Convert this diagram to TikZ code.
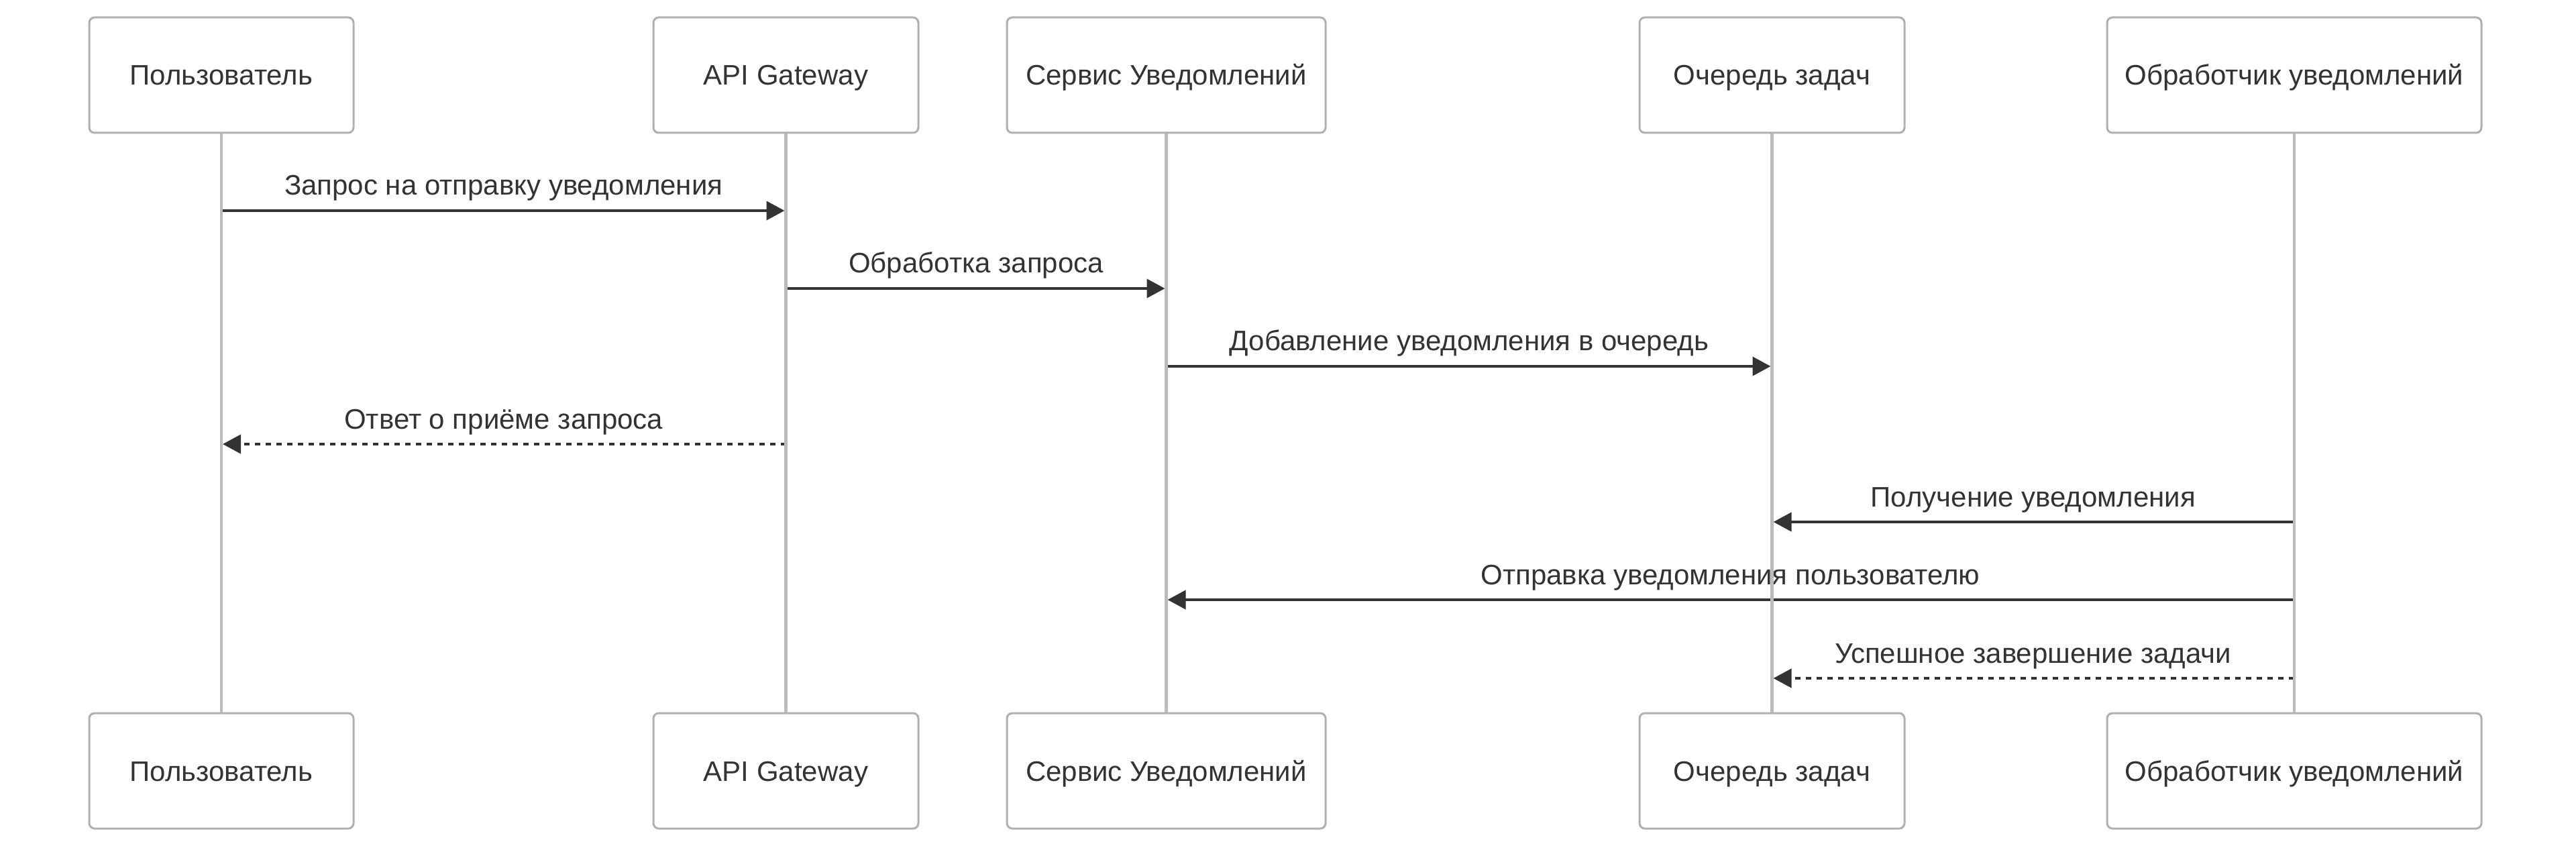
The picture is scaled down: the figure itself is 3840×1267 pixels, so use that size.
\documentclass[tikz,border=0pt]{standalone}
\usepackage{fontspec}
\setmainfont{Liberation Sans}
\usetikzlibrary{arrows.meta}
\definecolor{boxgray}{HTML}{B0B0B0}
\definecolor{lifegray}{HTML}{BBBBBB}
\definecolor{ink}{HTML}{333333}
\begin{document}
\begin{tikzpicture}[x=0.5pt,y=-0.5pt,
  actor/.style={draw=boxgray, line width=1.5pt, rounded corners=4pt, fill=white,
    minimum height=86pt, inner sep=0pt, text height=19pt, text depth=4pt,
    text=ink, font=\fontsize{21}{25}\selectfont},
  lifeline/.style={draw=lifegray, line width=2.3pt},
  msg/.style={draw=ink, line width=2pt, -{Triangle[length=13.5pt,width=14pt]}, shorten >=1pt},
  reply/.style={msg, dash pattern=on 4pt off 4pt},
  msglabel/.style={anchor=base, text=ink, inner sep=0pt, font=\fontsize{21}{25}\selectfont, yshift=11.5pt}
]
\useasboundingbox (0,0) rectangle (3840,1267);

% actors (top)
\node[actor, minimum width=197pt]   (t1) at (330,112)    {Пользователь};
\node[actor, minimum width=197.5pt] (t2) at (1171.5,112) {API Gateway};
\node[actor, minimum width=237.5pt] (t3) at (1738.5,112) {Сервис Уведомлений};
\node[actor, minimum width=197.5pt] (t4) at (2641.5,112) {Очередь задач};
\node[actor, minimum width=279pt]   (t5) at (3420,112)   {Обработчик уведомлений};
% actors (bottom)
\node[actor, minimum width=197pt]   (b1) at (330,1149)    {Пользователь};
\node[actor, minimum width=197.5pt] (b2) at (1171.5,1149) {API Gateway};
\node[actor, minimum width=237.5pt] (b3) at (1738.5,1149) {Сервис Уведомлений};
\node[actor, minimum width=197.5pt] (b4) at (2641.5,1149) {Очередь задач};
\node[actor, minimum width=279pt]   (b5) at (3420,1149)   {Обработчик уведомлений};

% message end points on the lifelines
\coordinate (m1a) at (330,314);    \coordinate (m1b) at (1171.5,314);
\coordinate (m2a) at (1171.5,430); \coordinate (m2b) at (1738.5,430);
\coordinate (m3a) at (1738.5,546); \coordinate (m3b) at (2641.5,546);
\coordinate (m4a) at (1171.5,662); \coordinate (m4b) at (330,662);
\coordinate (m5a) at (3420,778);   \coordinate (m5b) at (2641.5,778);
\coordinate (m6a) at (3420,894);   \coordinate (m6b) at (1738.5,894);
\coordinate (m7a) at (3420,1011);  \coordinate (m7b) at (2641.5,1011);

% messages
\draw[msg]   (m1a) -- (m1b) node[msglabel, midway] (l1) {Запрос на отправку уведомления};
\draw[msg]   (m2a) -- (m2b) node[msglabel, midway] (l2) {Обработка запроса};
\draw[msg]   (m3a) -- (m3b) node[msglabel, midway] (l3) {Добавление уведомления в очередь};
\draw[reply] (m4a) -- (m4b) node[msglabel, midway] (l4) {Ответ о приёме запроса};
\draw[msg]   (m5a) -- (m5b) node[msglabel, midway] (l5) {Получение уведомления};
\draw[msg]   (m6a) -- (m6b) node[msglabel, midway] (l6) {Отправка уведомления пользователю};
\draw[reply] (m7a) -- (m7b) node[msglabel, midway] (l7) {Успешное завершение задачи};

% lifelines (on top of messages)
\draw[lifeline] (t1.south) -- (b1.north);
\draw[lifeline] (t2.south) -- (b2.north);
\draw[lifeline] (t3.south) -- (b3.north);
\draw[lifeline] (t4.south) -- (b4.north);
\draw[lifeline] (t5.south) -- (b5.north);
\end{tikzpicture}
\end{document}
